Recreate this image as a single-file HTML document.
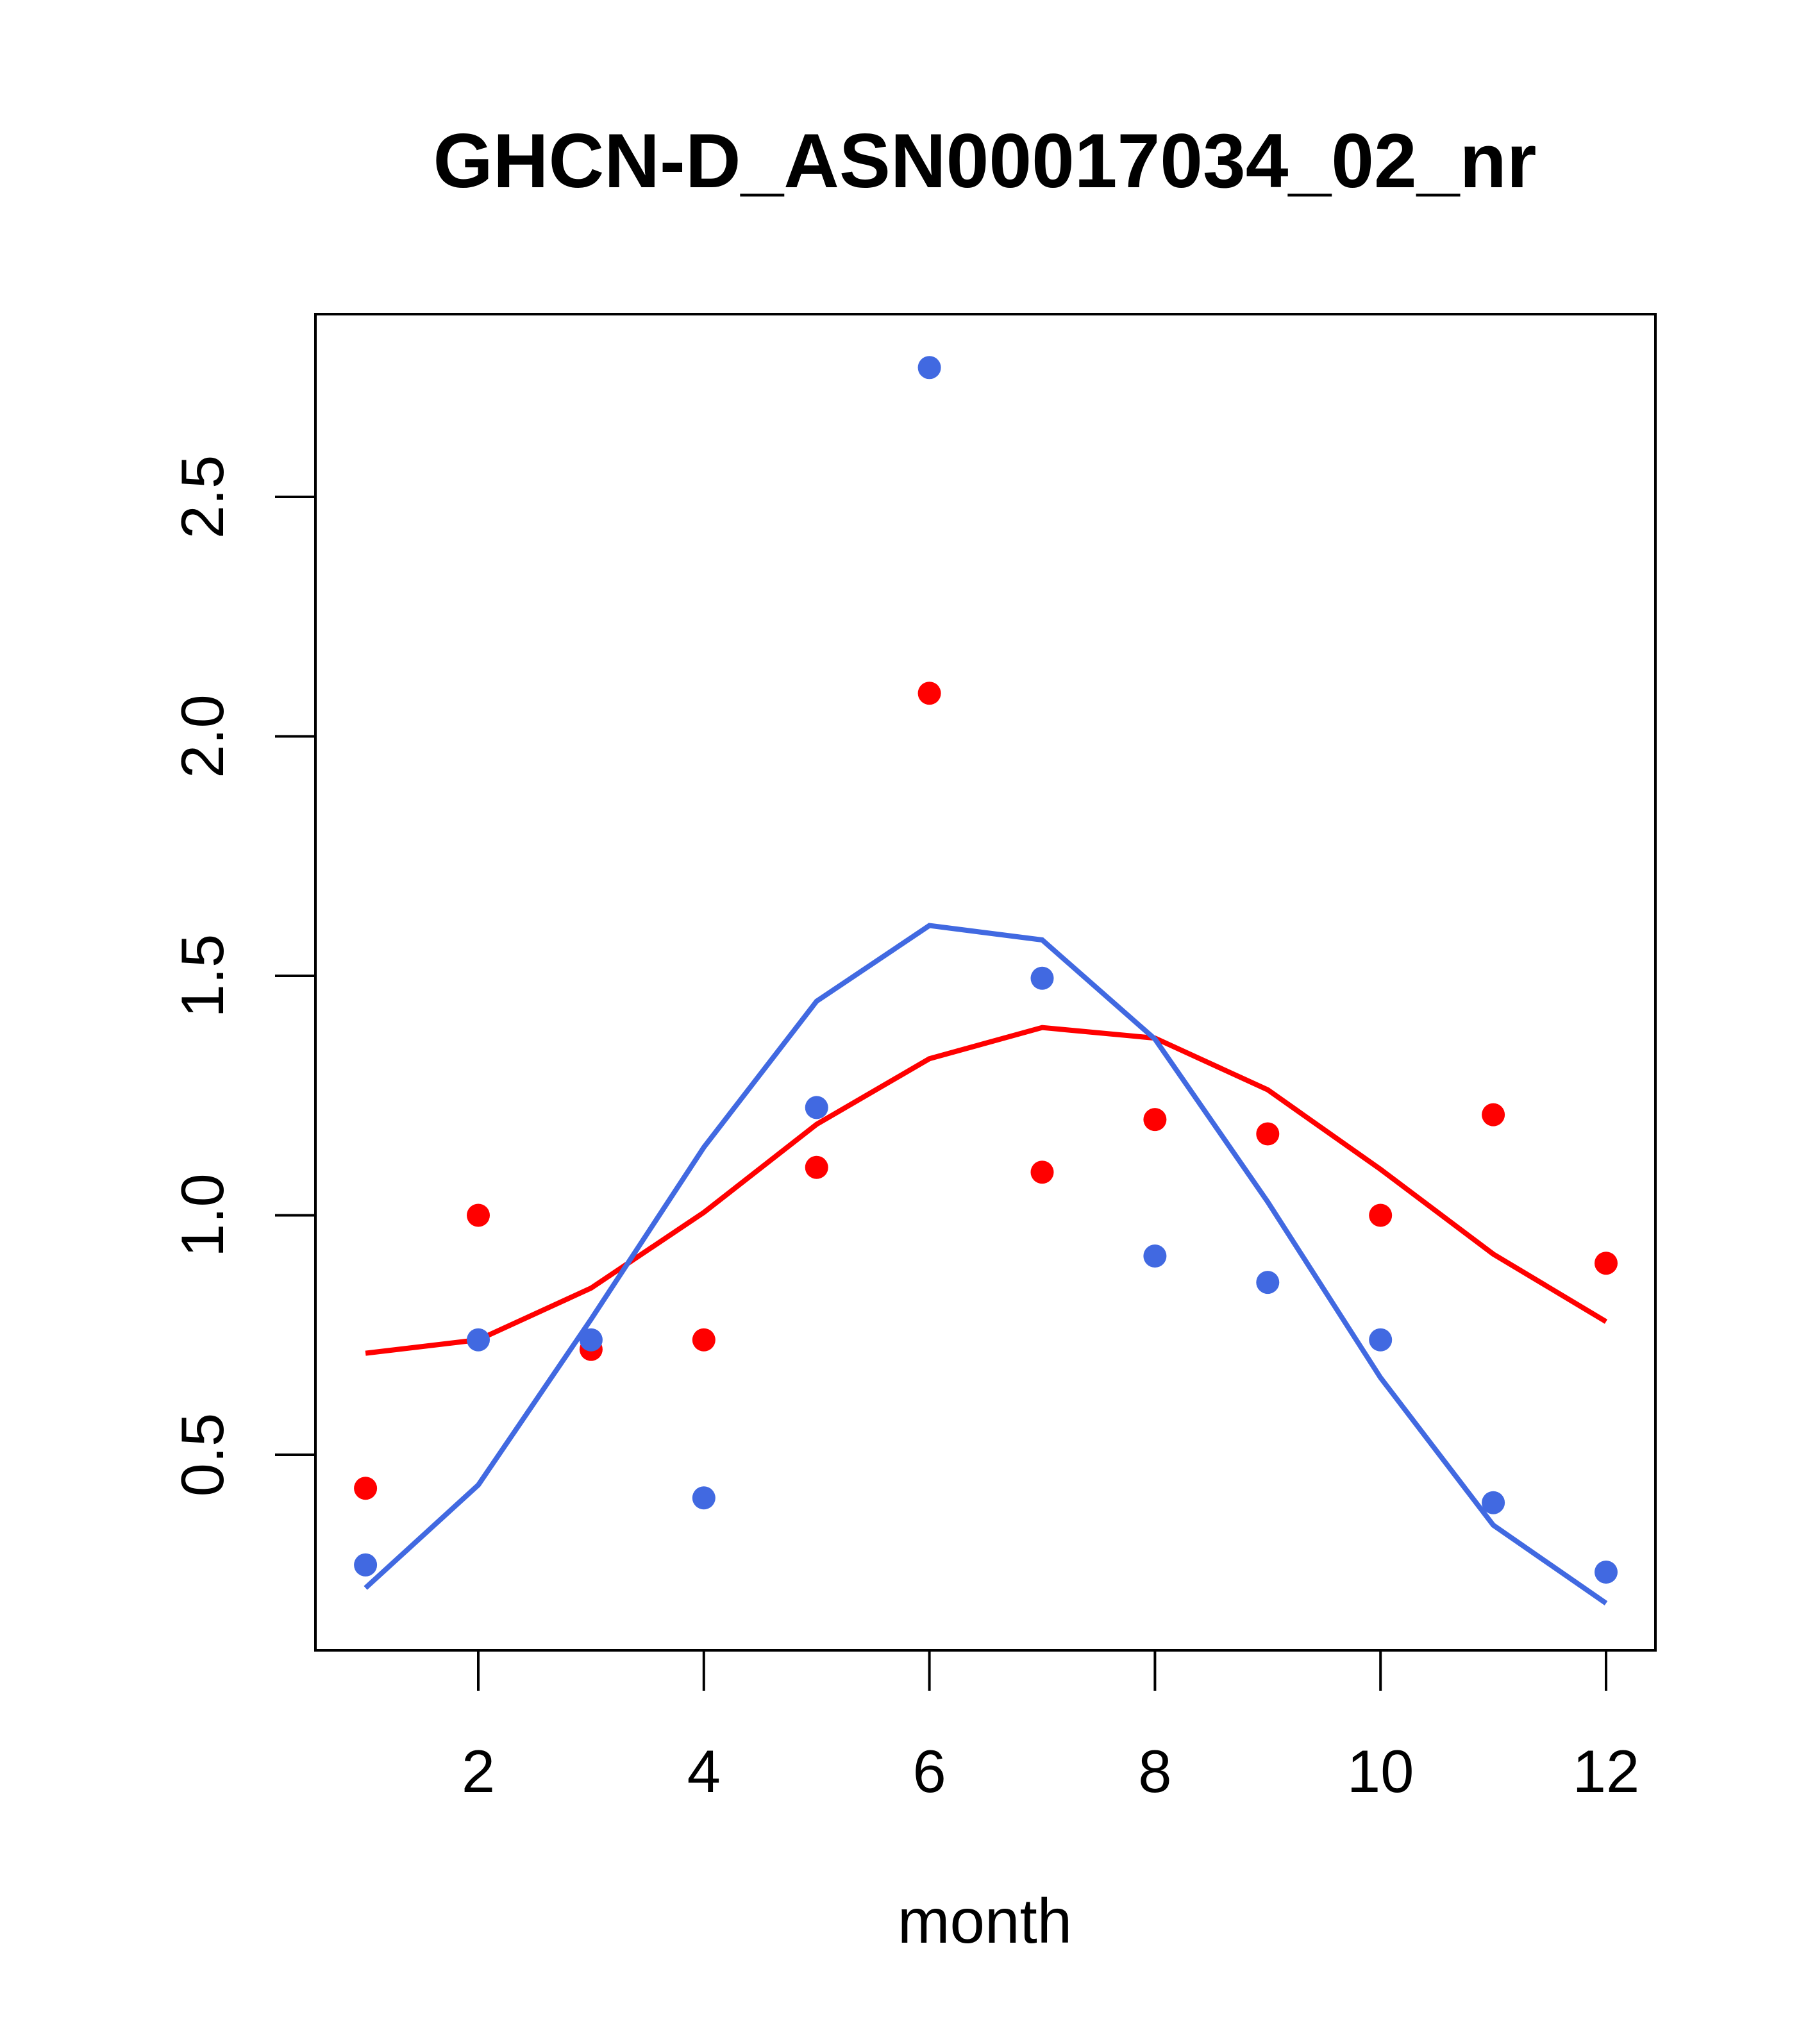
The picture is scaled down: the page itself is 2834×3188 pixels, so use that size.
<!DOCTYPE html>
<html><head><meta charset="utf-8"><style>html,body{margin:0;padding:0;background:#fff}svg{display:block}</style></head>
<body>
<svg id="chart" width="2834" height="3188" xmlns="http://www.w3.org/2000/svg" font-family="Liberation Sans, sans-serif">
<rect width="2834" height="3188" fill="#fff"/>
<text x="1536" y="292" font-size="120" font-weight="bold" text-anchor="middle">GHCN-D_ASN00017034_02_nr</text>
<rect x="492" y="490" width="2090" height="2084" fill="none" stroke="#000" stroke-width="4"/>
<text x="1536" y="3030" font-size="98" text-anchor="middle">month</text>
<g id="xaxis"></g>
<g id="yaxis"></g>
<g id="series"></g>
</svg>
<script>
const months=[1,2,3,4,5,6,7,8,9,10,11,12];
const redPoints=[0.43,1.0,0.72,0.74,1.10,2.09,1.09,1.20,1.17,1.0,1.21,0.90];
const bluePoints=[0.27,0.74,0.74,0.41,1.225,2.77,1.495,0.915,0.86,0.74,0.40,0.255];
const redLine=[0.712,0.74,0.848,1.006,1.19,1.327,1.392,1.37,1.262,1.096,0.919,0.778];
const blueLine=[0.222,0.437,0.783,1.142,1.447,1.605,1.575,1.368,1.028,0.661,0.353,0.19];
const xTicks=[2,4,6,8,10,12];
const yTicks=[0.5,1.0,1.5,2.0,2.5];
const yTickLabels=["0.5","1.0","1.5","2.0","2.5"];
const NS="http://www.w3.org/2000/svg";
function xs(m){return 746+(m-2)*(2505-746)/10;}
function ys(v){return 2269-(v-0.5)*(2269-775)/2;}
function mk(tag,attrs,parent){const e=document.createElementNS(NS,tag);for(const k in attrs)e.setAttribute(k,attrs[k]);parent.appendChild(e);return e;}
const xa=document.getElementById('xaxis'),ya=document.getElementById('yaxis'),se=document.getElementById('series');
mk('line',{x1:xs(2),x2:xs(12),y1:2574,y2:2574,stroke:'#000','stroke-width':4},xa);
xTicks.forEach(t=>{
  const l=mk('line',{x1:xs(t),x2:xs(t),y1:2574,y2:2637,stroke:'#000','stroke-width':4},xa);
  
  
  const tx=mk('text',{x:xs(t),y:2795,'font-size':94,'text-anchor':'middle'},xa);
  tx.textContent=t;
  
  
});
mk('line',{x1:492,x2:492,y1:ys(0.5),y2:ys(2.5),stroke:'#000','stroke-width':4},ya);
yTicks.forEach((t,i)=>{
  const l=mk('line',{x1:429,x2:492,y1:ys(t),y2:ys(t),stroke:'#000','stroke-width':4},ya);
  
  
  const y=ys(t);
  const tx=mk('text',{x:0,y:0,'font-size':94,'text-anchor':'middle',transform:`translate(348,${y}) rotate(-90)`},ya);
  tx.textContent=yTickLabels[i];
  
  
});
function line(vals,color,name){
  const p=mk('polyline',{points:vals.map((v,i)=>xs(months[i])+','+ys(v)).join(' '),fill:'none',stroke:color,'stroke-width':8},se);
  
  
}
function pts(vals,color,name){
  vals.forEach((v,i)=>{
    const c=mk('circle',{cx:xs(months[i]),cy:ys(v),r:18,fill:color},se);
    
    
  });
}
line(redLine,'#ff0000','red-line');
line(blueLine,'#4169e1','blue-line');
pts(redPoints,'#ff0000','red-point');
pts(bluePoints,'#4169e1','blue-point');
</script>
</body></html>
